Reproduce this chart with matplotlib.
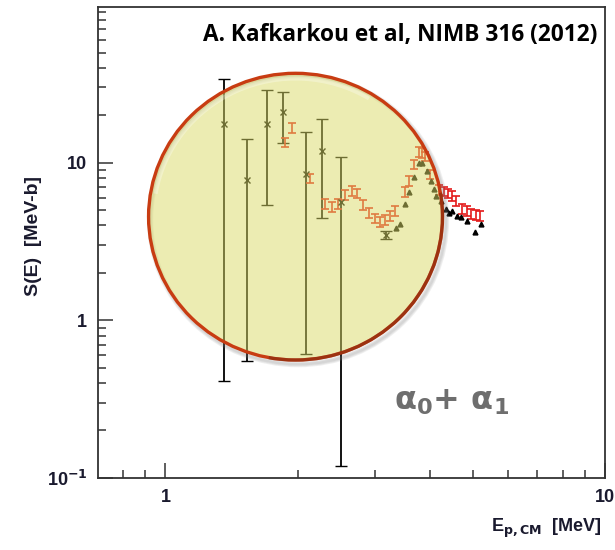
import matplotlib
matplotlib.use('Agg')
import matplotlib.pyplot as plt
import numpy as np
from matplotlib.patches import Ellipse, Arc
from matplotlib.ticker import FixedLocator, FixedFormatter, NullFormatter

# black points with large error bars (crosses)
e_big = [1.357, 1.531, 1.703, 1.852, 2.09, 2.27, 2.51, 3.174]
s_big = [17.7, 7.75, 17.7, 21.1, 8.45, 11.8, 5.62, 3.48]
s_big_hi = [34.1, 14.1, 28.9, 28.1, 15.7, 18.8, 10.8, 3.7]
s_big_lo = [0.414, 0.554, 5.41, 13.4, 0.614, 4.45, 0.119, 3.28]

# red data set with small error bars
e_red = [1.868, 1.945, 2.134, 2.308, 2.386, 2.475, 2.564, 2.656, 2.726, 2.818,
         2.897, 2.996, 3.081, 3.162, 3.246, 3.332, 3.512, 3.587, 3.668, 3.766,
         3.834, 3.901, 3.998, 4.18, 4.294, 4.385, 4.487, 4.58, 4.73, 4.845,
         4.96, 5.09, 5.18]
s_red = [13.5, 16.7, 7.94, 5.46, 5.25, 5.46, 6.23, 6.63, 6.38, 5.38,
         4.79, 4.43, 4.22, 4.35, 4.61, 4.95, 6.53, 7.67, 9.78, 11.7,
         11.6, 11.0, 8.45, 6.73, 6.60, 6.41, 6.17, 5.73, 5.08, 4.95,
         4.72, 4.65, 4.61]
red_rel_err = 0.07

# black triangles
e_tri = [3.345, 3.422, 3.512, 3.587, 3.68, 3.779, 3.839, 3.941, 4.019, 4.089,
         4.126, 4.236, 4.346, 4.423, 4.493, 4.613, 4.703, 4.862, 5.07, 5.22]
s_tri = [3.85, 4.08, 5.49, 6.51, 8.13, 10.0, 10.0, 8.87, 7.67, 6.80,
         6.17, 5.73, 5.08, 4.83, 4.95, 4.61, 4.52, 4.28, 3.65, 4.08]

y_ticks = [0.1, 1, 10]
y_labels = ['10$^{\\mathbf{-1}}$', '1', '10']
x_ticks = [1, 10]
x_labels = ['1', '10']

fig = plt.figure(figsize=(6.15, 5.5), dpi=100)
ax = fig.add_axes([0.160, 0.131, 0.824, 0.856])
ax.set_xscale('log')
ax.set_yscale('log')
ax.set_xlim(0.704, 10)
ax.set_ylim(0.1, 97)

# data
s_big = np.array(s_big)
ax.errorbar(e_big, s_big, yerr=[s_big - np.array(s_big_lo), np.array(s_big_hi) - s_big],
            fmt='x', color='black', ms=4, mew=1, elinewidth=1.3, capsize=4, capthick=1.3, zorder=3)
s_red = np.array(s_red)
ax.errorbar(e_red, s_red, yerr=s_red * red_rel_err, fmt='none', ecolor='#e41a1a',
            elinewidth=1.2, capsize=3, capthick=1.2, zorder=3)
ax.plot(e_tri, s_tri, '^', color='black', ms=3.5, zorder=3)

# highlight circle (overlay in axes coords)
cx, cy, w, h = 0.389, 0.555, 0.580, 0.609
for i in range(3):
    ax.add_patch(Ellipse((cx + 0.005, cy - 0.007), w + 0.004 * i, h + 0.004 * i,
                         transform=ax.transAxes, facecolor='none', edgecolor='gray',
                         lw=3, alpha=0.12, zorder=4))
ax.add_patch(Ellipse((cx, cy), w, h, transform=ax.transAxes, facecolor=(0.86, 0.86, 0.40),
                     edgecolor='none', alpha=0.5, zorder=5))
ax.add_patch(Arc((cx, cy), w - 0.02, h - 0.022, theta1=60, theta2=170,
                 transform=ax.transAxes, color='white', lw=3, alpha=0.3, zorder=5))
ax.add_patch(Ellipse((cx, cy), w, h, transform=ax.transAxes, facecolor='none',
                     edgecolor='#c83c12', lw=2.4, zorder=6))
ax.add_patch(Arc((cx, cy), w, h, theta1=-100, theta2=10, transform=ax.transAxes,
                 color='#7a2a10', lw=2.4, alpha=0.55, zorder=6))

# axes style
for sp in ax.spines.values():
    sp.set_color('#333333')
    sp.set_linewidth(1.3)
ax.tick_params(which='both', direction='in', top=False, right=False, color='#333333')
ax.tick_params(which='major', length=11, width=1.1, pad=8)
ax.tick_params(which='minor', length=6, width=1.1)
ax.yaxis.set_major_locator(FixedLocator(y_ticks))
ax.yaxis.set_major_formatter(FixedFormatter(y_labels))
ax.xaxis.set_major_locator(FixedLocator(x_ticks))
ax.xaxis.set_major_formatter(FixedFormatter(x_labels))
ax.xaxis.set_minor_formatter(NullFormatter())
ax.yaxis.set_minor_formatter(NullFormatter())
for lab in ax.get_xticklabels() + ax.get_yticklabels():
    lab.set_fontfamily('Liberation Sans')
    lab.set_fontweight('bold')
    lab.set_fontsize(13)
    lab.set_color('#1a1a2e')

fig.text(0.054, 0.571, 'S(E)  [MeV-b]', rotation=90, ha='center', va='center',
         family='Liberation Sans', weight='bold', fontsize=14, color='#1a1a2e')
fig.text(0.979, 0.040, 'E$_{\\mathbf{p,CM}}$  [MeV]', ha='right', va='center',
         family='Liberation Sans', weight='bold', fontsize=13, color='#1a1a2e')

ax.text(0.985, 0.94, 'A. Kafkarkou et al, NIMB 316 (2012)', transform=ax.transAxes,
        ha='right', va='center', family='Open Sans', weight='bold', fontsize=16.3, color='black',
        zorder=7)
ax.text(0.583, 0.163, r'$\mathbf{\alpha_0}$+ $\mathbf{\alpha_1}$', transform=ax.transAxes,
        ha='left', va='center', fontsize=23, color='#6e6e6e', weight='bold', zorder=7)

fig.savefig('out.png', dpi=100)
